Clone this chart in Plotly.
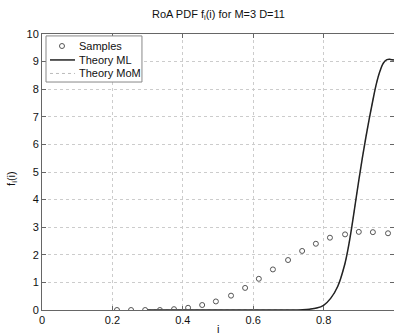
import plotly.graph_objects as go

# Sample points
sample_i = [0.213, 0.253, 0.293, 0.335, 0.375, 0.415, 0.455, 0.494, 0.537, 0.577,
            0.616, 0.656, 0.699, 0.739, 0.778, 0.818, 0.861, 0.900, 0.940, 0.983]
sample_f = [0.0, 0.0, 0.0, 0.0, 0.03, 0.08, 0.18, 0.31, 0.52, 0.80,
            1.13, 1.47, 1.81, 2.14, 2.40, 2.62, 2.74, 2.83, 2.82, 2.78]

# Theory ML curve
ml_i = [0.30, 0.40, 0.50, 0.60, 0.70, 0.72, 0.74, 0.76, 0.78, 0.80, 0.82, 0.84, 0.86,
        0.87, 0.88, 0.89, 0.90, 0.91, 0.92, 0.93, 0.94, 0.95, 0.96, 0.97, 0.98, 0.99, 1.0]
ml_f = [0.0, 0.0, 0.0, 0.0, 0.0, 0.0, 0.01, 0.03, 0.07, 0.17, 0.42, 0.85, 1.65,
        2.25, 3.0, 3.85, 4.7, 5.5, 6.25, 6.95, 7.6, 8.2, 8.65, 8.95, 9.07, 9.08, 9.06]

# Theory MoM curve (overlaps ML)
mom_i = ml_i
mom_f = ml_f

series_names = ["Samples", "Theory ML", "Theory MoM"]

x_ticks = [0, 0.2, 0.4, 0.6, 0.8, 1]
x_ticklabels = ["0", "0.2", "0.4", "0.6", "0.8", "1"]
y_ticks = list(range(0, 11))

font = "Liberation Sans, Arial, sans-serif"
txt = "#111111"

fig = go.Figure()
fig.add_trace(go.Scatter(x=mom_i, y=mom_f, mode="lines", name=series_names[2],
                         line=dict(color="#bbbbbb", width=1, dash="dot", shape="spline")))
fig.add_trace(go.Scatter(x=ml_i, y=ml_f, mode="lines", name=series_names[1],
                         line=dict(color="#222222", width=1.5, shape="spline")))
fig.add_trace(go.Scatter(x=sample_i, y=sample_f, mode="markers", name=series_names[0],
                         marker=dict(symbol="circle-open", size=5, color="#555555",
                                     line=dict(width=1, color="#555555"))))

axis_common = dict(showline=True, linecolor="#666666", linewidth=1, mirror="ticks",
                   ticks="inside", ticklen=4, tickcolor="#666666",
                   showgrid=True, gridcolor="#cccccc", griddash="dot", gridwidth=1,
                   zeroline=False, tickfont=dict(family=font, size=11, color=txt))

# Manual compact legend (MATLAB-style)
shapes = [
    dict(type="rect", xref="paper", yref="paper", x0=0.0114, x1=0.284, y0=0.826, y1=0.993,
         line=dict(color="#888888", width=1), fillcolor="white", layer="above"),
    dict(type="circle", xref="paper", yref="paper", xsizemode="pixel", ysizemode="pixel",
         xanchor=0.0568, yanchor=0.9565, x0=-2.5, x1=2.5, y0=-2.5, y1=2.5,
         line=dict(color="#555555", width=1), layer="above"),
    dict(type="line", xref="paper", yref="paper", x0=0.0227, x1=0.0938, y0=0.906, y1=0.906,
         line=dict(color="#222222", width=1.5), layer="above"),
    dict(type="line", xref="paper", yref="paper", x0=0.0227, x1=0.0938, y0=0.857, y1=0.857,
         line=dict(color="#bbbbbb", width=1, dash="dot"), layer="above"),
]
legend_y = [0.9565, 0.906, 0.857]
annotations = [
    dict(text=n, xref="paper", yref="paper", x=0.0994, y=yy, xanchor="left",
         yanchor="middle", showarrow=False, font=dict(family=font, size=11, color=txt))
    for n, yy in zip(series_names, legend_y)
]
annotations += [
    dict(text="RoA PDF f<sub>i</sub>(i) for M=3 D=11", xref="paper", yref="paper",
         x=0.5, y=1, yshift=10, xanchor="center", yanchor="bottom", showarrow=False,
         font=dict(family=font, size=11, color=txt)),
    dict(text="i", xref="paper", yref="paper", x=0.5, y=0, yshift=-27,
         xanchor="center", yanchor="bottom", showarrow=False,
         font=dict(family=font, size=11, color=txt)),
    dict(text="f<sub>i</sub>(i)", xref="paper", yref="paper", x=0, xshift=-30,
         y=0.475, xanchor="center", yanchor="middle", textangle=-90, showarrow=False,
         font=dict(family=font, size=11, color=txt)),
]

fig.update_layout(
    width=394, height=334,
    margin=dict(l=42, r=0, t=34, b=24),
    paper_bgcolor="white", plot_bgcolor="white",
    font=dict(family=font, size=11, color=txt),
    showlegend=False,
    xaxis=dict(range=[0, 1], tickvals=x_ticks, ticktext=x_ticklabels, **axis_common),
    yaxis=dict(range=[0, 10], tickvals=y_ticks, **axis_common),
    shapes=shapes,
    annotations=annotations,
)

fig.write_html("out.html")
